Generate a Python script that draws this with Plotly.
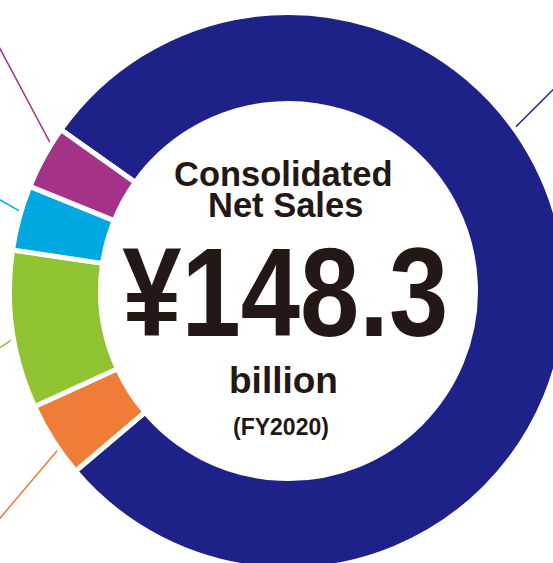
import math
import plotly.graph_objects as go

# Net sales by business segment, FY2020 (billion yen), listed clockwise
segments = ["Segment A", "Segment B", "Segment C", "Segment D", "Segment E"]
sales_bn = [117.2, 6.5, 13.6, 5.6, 5.5]
colors = ["#1e2188", "#ef7d37", "#8fc331", "#00a8e2", "#a43289"]

total_label = "¥148.3"
title_lines = ["Consolidated", "Net Sales"]
unit_label = "billion"
period_label = "(FY2020)"

# Canvas and ring geometry (pixels)
W, H = 580, 580
CX, CY = 288, 291          # ring centre
R_OUT = 278.5              # outer radius incl. half the separator stroke
R_IN = 187.5               # hole radius
SEP = 5                    # white separator width
START = -54.6              # start of first slice, degrees clockwise from 12 o'clock

INK = "#231815"
TOTAL_WIDTH = 326          # condensed width of the headline figure, px


def px(x):
    return x / W


def py(y):
    return 1 - y / H


fig = go.Figure()
fig.add_trace(go.Pie(
    labels=segments,
    values=sales_bn,
    marker=dict(colors=colors, line=dict(color="white", width=SEP)),
    hole=R_IN / R_OUT,
    sort=False,
    direction="clockwise",
    rotation=START,
    textinfo="none",
    hoverinfo="label+value",
    showlegend=False,
    domain=dict(x=[px(CX - R_OUT), px(CX + R_OUT)],
                y=[py(CY + R_OUT), py(CY - R_OUT)]),
))

# Leader lines from the ring edge towards the segment captions
leader_attach = [35.6, 214.4, 189.6, 163.6, 148.6]   # math angle on the ring
leader_dir = [45.0, 229.8, 213.7, 150.5, 118.0]      # direction of the line
r_edge = R_OUT - SEP / 2
for a, d, c in zip(leader_attach, leader_dir, colors):
    x0 = CX + r_edge * math.cos(math.radians(a))
    y0 = CY - r_edge * math.sin(math.radians(a))
    x1 = x0 + 260 * math.cos(math.radians(d))
    y1 = y0 - 260 * math.sin(math.radians(d))
    fig.add_shape(type="line", xref="paper", yref="paper",
                  x0=px(x0), y0=py(y0), x1=px(x1), y1=py(y1),
                  line=dict(color=c, width=1.5), layer="below")

# Centre caption
BOLD = "Liberation Sans, Arial, Helvetica, sans-serif"
caption = [
    (title_lines[0], 283.5, 173.5, 34.5),
    (title_lines[1], 285, 204.5, 34.5),
    (total_label, 285, 292, 127),
    (unit_label, 283.5, 380, 37),
    (period_label, 281, 427, 23),
]
for text, x, y, size in caption:
    fig.add_annotation(
        text=text, x=px(x), y=py(y), xref="paper", yref="paper",
        xanchor="center", yanchor="middle", showarrow=False,
        font=dict(family=BOLD, size=size, color=INK, weight="bold"),
    )

fig.update_layout(
    width=W, height=H,
    margin=dict(l=0, r=0, t=0, b=0),
    paper_bgcolor="white",
    plot_bgcolor="white",
)

# Set the headline figure in a condensed width, and let the ring run off the page edge
post = """
document.documentElement.style.overflow = 'hidden';
document.body.style.overflow = 'hidden';
document.body.style.margin = '0';
var gd = document.getElementById('{plot_id}');
gd.querySelectorAll('text.annotation-text').forEach(function (t) {
    if (t.textContent === '%s') {
        t.setAttribute('textLength', '%d');
        t.setAttribute('lengthAdjust', 'spacingAndGlyphs');
    }
});
""" % (total_label, TOTAL_WIDTH)

fig.write_html("out.html", post_script=post)
